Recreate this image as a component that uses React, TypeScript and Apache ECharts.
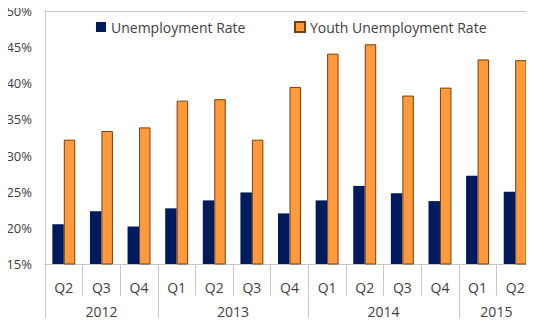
import React, { useEffect, useRef } from "react";
import * as echarts from "echarts";

const quarters = ["Q2", "Q3", "Q4", "Q1", "Q2", "Q3", "Q4", "Q1", "Q2", "Q3", "Q4", "Q1", "Q2"];
const years = ["2012", "2013", "2014", "2015"];
const yearQuarterCounts = [3, 4, 4, 2];
const unemployment = [20.5, 22.3, 20.2, 22.7, 23.8, 24.9, 22.0, 23.8, 25.8, 24.8, 23.7, 27.2, 25.0];
const youthUnemployment = [32.2, 33.4, 33.9, 37.6, 37.8, 32.2, 39.5, 44.1, 45.4, 38.3, 39.4, 43.3, 43.2];

export default function App() {
  const ref = useRef<HTMLDivElement>(null);
  useEffect(() => {
    if (!ref.current) return;
    const chart = echarts.init(ref.current, null, { renderer: "svg" });
    const font = "Open Sans";
    const textColor = "#404040";
    const lineColor = "#c8c8c8";

    const bounds: number[] = [0];
    const centers: number[] = [];
    yearQuarterCounts.forEach((c) => {
      const start = bounds[bounds.length - 1];
      centers.push(start + c / 2);
      bounds.push(start + c);
    });

    const legendText = { fontFamily: font, fontSize: 14, color: textColor };

    chart.setOption({
      animation: false,
      textStyle: { fontFamily: font },
      grid: { left: 45, right: 0, top: 11, bottom: 62, containLabel: false },
      legend: [
        {
          data: ["Unemployment Rate"],
          left: 96,
          top: 20,
          padding: 0,
          itemWidth: 10,
          itemHeight: 10,
          itemGap: 4,
          icon: "rect",
          textStyle: legendText,
        },
        {
          data: ["Youth Unemployment Rate"],
          left: 294,
          top: 20,
          padding: 0,
          itemWidth: 10,
          itemHeight: 10,
          icon: "rect",
          textStyle: legendText,
        },
      ],
      xAxis: [
        {
          type: "category",
          data: quarters,
          position: "bottom",
          axisLine: { show: true, lineStyle: { color: lineColor } },
          axisTick: { show: true, interval: 0, length: 32, alignWithLabel: false, lineStyle: { color: lineColor } },
          axisLabel: { interval: 0, fontSize: 14, color: textColor, margin: 16, fontFamily: font },
        },
        {
          type: "value",
          min: 0,
          max: quarters.length,
          position: "bottom",
          axisLine: { show: false },
          splitLine: { show: false },
          axisTick: { show: true, length: 61, customValues: bounds, lineStyle: { color: lineColor } },
          axisLabel: {
            show: true,
            customValues: centers,
            margin: 40,
            fontSize: 14,
            color: textColor,
            fontFamily: font,
            formatter: (v: number) => {
              const i = centers.findIndex((c) => Math.abs(c - v) < 1e-6);
              return i >= 0 ? years[i] : "";
            },
          },
        },
        {
          type: "category",
          data: quarters,
          position: "top",
          axisLine: { show: true, lineStyle: { color: lineColor } },
          axisTick: { show: false },
          axisLabel: { show: false },
        },
      ],
      yAxis: {
        type: "value",
        min: 15,
        max: 50,
        interval: 5,
        axisLine: { show: true, lineStyle: { color: lineColor } },
        axisTick: { show: false },
        splitLine: { show: false },
        axisLabel: {
          formatter: "{value}%",
          fontSize: 13,
          color: textColor,
          margin: 13,
          fontFamily: font,
        },
      },
      series: [
        {
          name: "Unemployment Rate",
          type: "bar",
          data: unemployment,
          xAxisIndex: 0,
          barGap: "0%",
          barCategoryGap: "39%",
          itemStyle: { color: "#001a5e" },
        },
        {
          name: "Youth Unemployment Rate",
          type: "bar",
          data: youthUnemployment,
          xAxisIndex: 0,
          itemStyle: { color: "#ff9a3c", borderColor: "#7a3e0a", borderWidth: 1 },
        },
      ],
    });
    return () => chart.dispose();
  }, []);
  return <div ref={ref} style={{ width: 534, height: 326, margin: -8 }} />;
}
